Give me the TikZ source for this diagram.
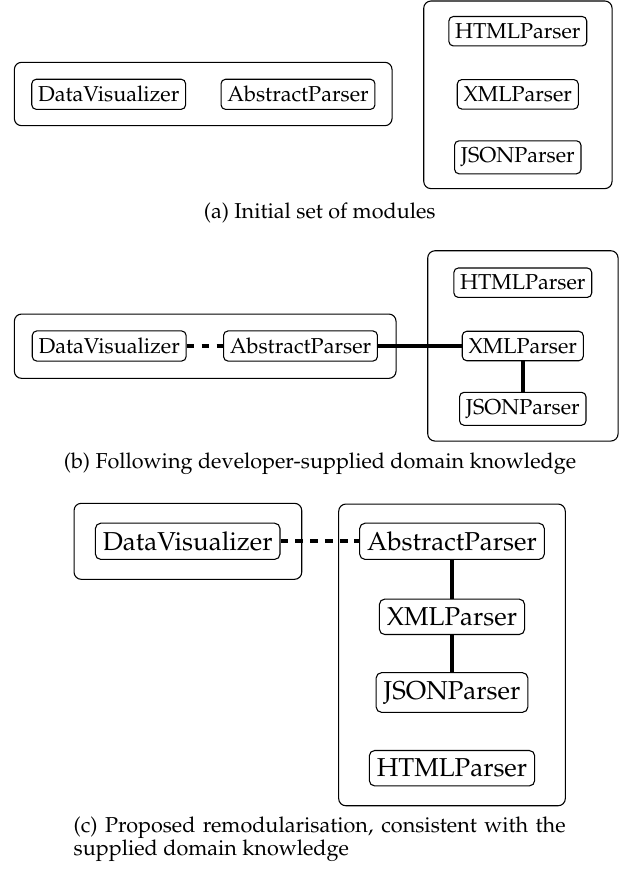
\documentclass[tikz,border=0pt]{standalone}
\usepackage[T1]{fontenc}
\usepackage{mathpazo}
\def\pxu{0.5556pt}
\tikzset{
  grp/.style={draw, line width=0.6pt, rounded corners=4pt, inner sep=0pt},
  mod/.style={draw, line width=0.6pt, rounded corners=2.5pt, inner xsep=3.5pt, inner ysep=3.9pt, font=\large},
  modc/.style={mod, rounded corners=3pt, inner xsep=4.2pt, inner ysep=4.7pt, font=\Large},
  dep/.style={line width=2.2pt},
  depc/.style={line width=2.4pt},
  capt/.style={inner sep=0pt, font=\large}
}
\begin{document}
\begin{tikzpicture}[x=\pxu, y=-\pxu]
\useasboundingbox (0,0) rectangle (624,869);

% ---------- (a) ----------
\node[grp, minimum width=377.7*\pxu, minimum height=63.4*\pxu] (A1) at (203.2,94) {};
\node[grp, minimum width=188.3*\pxu, minimum height=187.6*\pxu] (A2) at (517.9,94.8) {};
\node[mod] (aDV) at (108.7,94.3) {DataVisualizer};
\node[mod] (aAP) at (298,94.3) {AbstractParser};
\node[mod] (aHTML) at (517.8,31.2) {HTMLParser};
\node[mod] (aXML) at (517.8,94.3) {XMLParser};
\node[mod] (aJSON) at (517.8,157.3) {JSONParser};
\node[capt, anchor=base] (capA) at (319.7,218.3) {(a) Initial set of modules};

% ---------- (b) ----------
\node[grp, minimum width=381.7*\pxu, minimum height=64.3*\pxu] (B1) at (205.2,346.2) {};
\node[grp, minimum width=190.3*\pxu, minimum height=190.3*\pxu] (B2) at (522.9,345.9) {};
\node[mod] (bDV) at (109.2,346) {DataVisualizer};
\node[mod] (bAP) at (300.5,346) {AbstractParser};
\node[mod] (bHTML) at (522.8,282.7) {HTMLParser};
\node[mod] (bXML) at (522.8,346) {XMLParser};
\node[mod] (bJSON) at (522.8,408.8) {JSONParser};
\draw[dep, dash pattern=on 3.9pt off 4.4pt] (bDV) -- (bAP);
\draw[dep] (bAP) -- (bXML);
\draw[dep] (bXML) -- (bJSON);
\node[capt, anchor=base] (capB) at (320,468.3) {(b) Following developer-supplied domain knowledge};

% ---------- (c) ----------
\node[grp, minimum width=227.7*\pxu, minimum height=76*\pxu] (C1) at (187.9,541.3) {};
\node[grp, minimum width=226.6*\pxu, minimum height=301.7*\pxu] (C2) at (452,654.9) {};
\node[modc] (cDV) at (187.7,541.3) {DataVisualizer};
\node[modc] (cAP) at (452,541.3) {AbstractParser};
\node[modc] (cXML) at (452,616.8) {XMLParser};
\node[modc] (cJSON) at (452,692.5) {JSONParser};
\node[modc] (cHTML) at (452,768.2) {HTMLParser};
\draw[depc, dash pattern=on 4.4pt off 3.8pt] (cDV) -- (cAP);
\draw[depc] (cAP) -- (cXML);
\draw[depc] (cXML) -- (cJSON);
\node[capt, anchor=base west, text width=492*\pxu, align=justify,
      font=\fontsize{12}{12.8}\selectfont] (capC) at (73.3,832)
  {(c) Proposed remodularisation, consistent with the\linebreak supplied domain knowledge};
\end{tikzpicture}
\end{document}
